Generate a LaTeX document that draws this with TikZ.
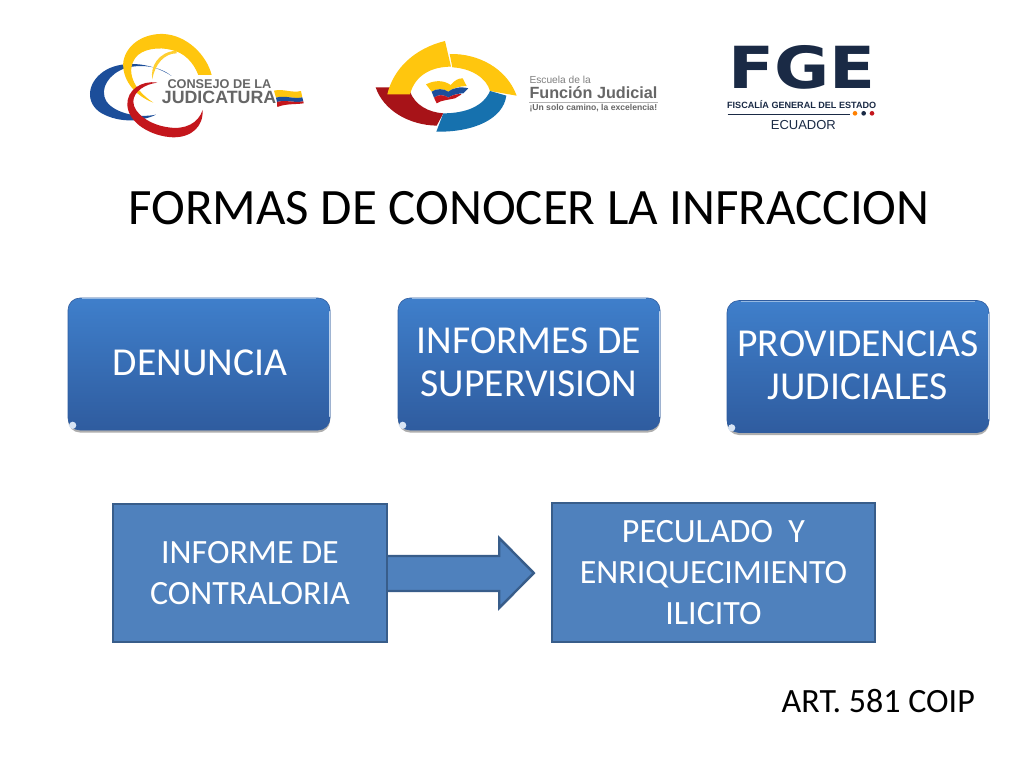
\documentclass[tikz,border=0pt]{standalone}
\usepackage{fontspec}
\setmainfont{Carlito}
\newfontfamily\logofont{Liberation Sans}
\newfontfamily\fgefont{DejaVu Sans}
\usetikzlibrary{shadows,calc}
\definecolor{boxfill}{HTML}{4F81BD}
\definecolor{boxline}{HTML}{385D8A}
\definecolor{gloss}{HTML}{3F7FCB}
\definecolor{glossb}{HTML}{2F5C9F}
\definecolor{lyellow}{HTML}{FFC60E}
\definecolor{lblue}{HTML}{1C4E9A}
\definecolor{lred}{HTML}{C4161C}
\definecolor{lgrey}{HTML}{666666}
\definecolor{fgenavy}{HTML}{1A2A45}
\newcommand{\fsz}[1]{\fontsize{#1}{#1}\selectfont}
\tikzset{
 glossbox/.style={rounded corners=12pt,minimum width=262pt,minimum height=132pt,
   top color=gloss,bottom color=glossb,draw=glossb,line width=.6pt,
   text=white,align=center,font=\fontsize{39.6}{43}\selectfont,inner sep=0pt,
   drop shadow={shadow xshift=0pt,shadow yshift=-2.5pt,opacity=.45,fill=black!70}},
 flatbox/.style={draw=boxline,line width=2.4pt,fill=boxfill,text=white,align=center,
   font=\fontsize{34}{41}\selectfont,inner sep=0pt},
 blockarrow/.style={draw=boxline,line width=2.4pt,fill=boxfill,line join=miter},
 edgelight/.style={draw=white!65!gloss,line width=1.3pt,line cap=round},
 plain/.style={inner sep=0pt,text=black},
 logotext/.style={inner sep=0pt,text=lgrey,anchor=west},
}
\begin{document}
\begin{tikzpicture}[x=1pt,y=-1pt]
\useasboundingbox (0,0) rectangle (1024,768);
\fill[white] (0,0) rectangle (1024,768);

% Logo 1: Consejo de la Judicatura
\begin{scope}[shift={(70,20)},x=.3333pt,y=-.3333pt]
 \fill[lblue] (305,168) .. controls (240,125) and (150,120) .. (100,155)
   .. controls (50,190) and (45,250) .. (95,280)
   .. controls (150,310) and (215,305) .. (258,284)
   .. controls (205,295) and (135,280) .. (110,245)
   .. controls (85,205) and (120,160) .. (165,145)
   .. controls (215,130) and (270,140) .. (305,168) -- cycle;
 \fill[lyellow] (250,248) .. controls (190,225) and (155,175) .. (160,125)
   .. controls (170,70) and (225,40) .. (280,42)
   .. controls (350,45) and (410,105) .. (425,165)
   -- (385,165)
   .. controls (370,125) and (340,97) .. (305,90)
   .. controls (270,80) and (215,85) .. (195,115)
   .. controls (170,150) and (185,205) .. (250,248) -- cycle;
 \fill[lyellow!85!white] (247,178) .. controls (240,140) and (265,95) .. (320,92)
   -- (320,100) .. controls (285,100) and (255,130) .. (247,178) -- cycle;
 \fill[lred] (262,188) .. controls (215,180) and (170,210) .. (172,255)
   .. controls (175,310) and (245,350) .. (310,352)
   .. controls (365,352) and (400,320) .. (398,270)
   .. controls (385,310) and (345,330) .. (295,322)
   .. controls (240,315) and (190,280) .. (190,245)
   .. controls (190,215) and (225,192) .. (262,188) -- cycle;
 \node[logotext,font=\logofont\bfseries\fsz{12.7}] (cj1) at (292,191) {CONSEJO DE LA};
 \node[logotext,font=\logofont\bfseries\fsz{17.8}] (cj2) at (275,232) {JUDICATURA};
 \fill[lyellow] (612,212) .. controls (640,205) and (665,220) .. (693,213) -- (697,232)
   .. controls (670,238) and (645,225) .. (618,233) -- cycle;
 \fill[lblue] (618,233) .. controls (645,225) and (670,238) .. (697,232) -- (700,244)
   .. controls (672,250) and (648,238) .. (621,246) -- cycle;
 \fill[lred] (621,246) .. controls (648,238) and (672,250) .. (700,244) -- (701,250)
   .. controls (675,254) and (650,250) .. (622,261) -- cycle;
\end{scope}

% Logo 2: Escuela de la Funcion Judicial
\begin{scope}[shift={(365,25)},x=.3333pt,y=-.3333pt]
 \fill[lred!85!black] (32,187) -- (75,187) -- (135,200) .. controls (150,240) and (190,262) .. (235,265)
   -- (215,302) .. controls (130,300) and (55,255) .. (32,187) -- cycle;
 \fill[lyellow] (240,48) -- (258,125) .. controls (200,125) and (150,150) .. (135,208)
   -- (67,208) .. controls (85,130) and (150,70) .. (240,48) -- cycle;
 \fill[lyellow] (254,87) .. controls (340,85) and (425,130) .. (455,212)
   -- (375,198) .. controls (365,160) and (320,130) .. (262,127) -- cycle;
 \fill[lblue!80!cyan] (375,198) -- (424,212) .. controls (415,280) and (330,322) .. (214,320)
   -- (235,265) .. controls (300,265) and (355,245) .. (375,198) -- cycle;
 \fill[lyellow] (183,178) .. controls (210,165) and (235,165) .. (257,180)
   .. controls (270,165) and (280,160) .. (293,160) -- (305,183)
   .. controls (285,183) and (262,190) .. (250,200) .. controls (235,190) and (215,190) .. (200,200) -- cycle;
 \fill[lblue] (200,200) .. controls (215,190) and (235,190) .. (250,200)
   .. controls (262,190) and (285,183) .. (310,190) -- (295,205)
   .. controls (280,205) and (262,210) .. (250,218) .. controls (235,208) and (220,208) .. (207,218) -- cycle;
 \fill[lred] (207,218) .. controls (220,208) and (235,208) .. (250,218)
   .. controls (262,210) and (280,205) .. (290,208) -- (270,220)
   .. controls (250,225) and (230,225) .. (215,235) -- cycle;
 \node[logotext,font=\logofont\fsz{10.2},text=gray] (ef1) at (493,164) {Escuela de la};
 \node[logotext,font=\logofont\bfseries\fsz{16.2}] (ef2) at (493,204) {Función Judicial};
 \draw[gray!60,line width=.4pt] (493,232) -- (880,232);
 \node[logotext,font=\logofont\bfseries\fsz{8.6}] (ef3) at (493,249) {¡Un solo camino, la excelencia!};
\end{scope}

% Logo 3: FGE
\begin{scope}[shift={(715,30)},x=.3333pt,y=-.3333pt]
 \node[inner sep=0pt,text=fgenavy,font=\fgefont\bfseries\fsz{58}] (fge) at (260,112) {\scalebox{1.16}[1]{FGE}};
 \node[inner sep=0pt,text=fgenavy,font=\logofont\bfseries\fsz{9.07}] (fg2) at (260,224) {FISCALÍA GENERAL DEL ESTADO};
 \draw[fgenavy,line width=.7pt] (38,252) -- (405,252);
 \fill[orange] (420,250) circle (7);
 \fill[fgenavy] (446,250) circle (7);
 \fill[lred] (471,250) circle (7);
 \node[inner sep=0pt,text=fgenavy,font=\logofont\fsz{13}] (fg3) at (265,285) {ECUADOR};
\end{scope}

% Title
\node[plain,font=\fsz{51}] (title) at (529,208) {FORMAS DE CONOCER LA INFRACCION};

% Glossy boxes
\node[glossbox,text depth=3pt] (den) at (199,364) {\hspace*{2pt}DENUNCIA};
\node[glossbox,text depth=3pt] (sup) at (529,364) {INFORMES DE\\SUPERVISION};
\node[glossbox,text depth=3pt] (prov) at (858,366.5) {PROVIDENCIAS\\JUDICIALES};
\foreach \n in {den,sup,prov}{
  \draw[edgelight] ($(\n.north east)+(-.5,14)$) -- ($(\n.south east)+(-.5,-14)$);
  \draw[white!45!gloss,line width=1.2pt] ($(\n.north west)+(14,1)$) -- ($(\n.north east)+(-14,1)$);
  \fill[white!80!gloss] ($(\n.south west)+(5,-5)$) circle (3.6);
}

% Flat boxes and arrow
\node[flatbox,minimum width=274pt,minimum height=138pt,text depth=-2pt] (inf) at (250,573) {INFORME DE\\CONTRALORIA};
\node[flatbox,minimum width=323pt,minimum height=139pt,text depth=-4pt] (pec) at (713.5,572.5) {PECULADO\ \ Y\\ENRIQUECIMIENTO\\ILICITO};
\coordinate (tip) at ($(pec.west)+(-17,0.5)$);
\draw[blockarrow] ($(inf.east)+(0,-17)$) -- ($(inf.east)+(111,-17)$) -- ($(inf.east)+(111,-35)$)
  -- (tip) -- ($(inf.east)+(111,35)$) -- ($(inf.east)+(111,18)$) -- ($(inf.east)+(0,18)$);

\node[plain,font=\fsz{34},anchor=east] (art) at (975,701) {ART. 581 COIP};
\end{tikzpicture}
\end{document}
